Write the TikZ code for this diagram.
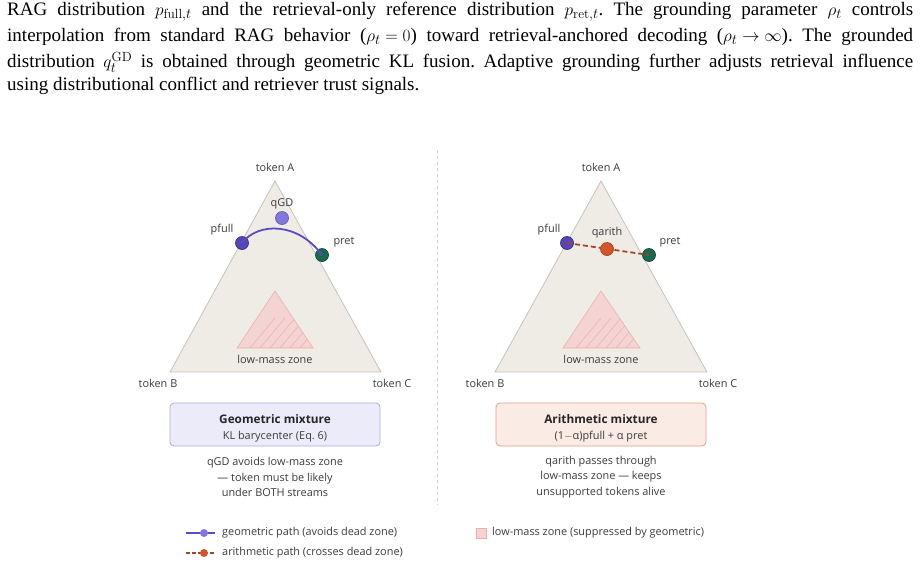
\documentclass[tikz,border=0pt]{standalone}
\usepackage{fontspec}
\setsansfont{Open Sans}
\newfontfamily\capfont{Liberation Serif}
\definecolor{simplex}{HTML}{EFECE5}
\definecolor{simpedge}{HTML}{C9C3B9}
\definecolor{zonefill}{HTML}{F3D4D2}
\definecolor{zoneedge}{HTML}{EDAFAE}
\definecolor{pfullc}{HTML}{5546B8}
\definecolor{qgdc}{HTML}{8277DB}
\definecolor{pretc}{HTML}{1B6A50}
\definecolor{arithc}{HTML}{D2562A}
\definecolor{arithline}{HTML}{A8432A}
\definecolor{geoline}{HTML}{5B4CC4}
\definecolor{txt}{HTML}{3C3C3C}
\newcommand\mm[1]{\mbox{$#1$}}
\frenchspacing
\begin{document}
\begin{tikzpicture}[x=1pt,y=-1pt,
  lab/.style={font=\sffamily\fontsize{10.9}{12}\selectfont,text=txt,inner sep=0pt},
  capline/.style={font=\capfont\fontsize{19}{22}\selectfont,anchor=west,inner sep=0pt},
  simp/.style={fill=simplex,draw=simpedge,line width=0.8pt},
  zone/.style={fill=zonefill,draw=zoneedge,line width=0.6pt},
  dotp/.style={circle,inner sep=0pt,minimum size=13pt,line width=0.7pt},
  mixbox/.style={rounded corners=4pt,line width=0.8pt,minimum width=210pt,minimum height=43pt},
  geo/.style={geoline,line width=1.8pt},
  ari/.style={arithline,line width=1.8pt,dash pattern=on 5pt off 3pt}]
\useasboundingbox (0,0) rectangle (920,568);
% caption
\node[capline] (c1) at (7,12) {\makebox[906pt][s]{RAG distribution \mm{p_{\mathrm{full},t}} and the retrieval-only reference distribution \mm{p_{\mathrm{ret},t}}. The grounding parameter \mm{\rho_t} controls}};
\node[capline] (c2) at (7,37) {\makebox[906pt][s]{interpolation from standard RAG behavior (\mm{\rho_t=0}) toward retrieval-anchored decoding (\mm{\rho_t\to\infty}). The grounded}};
\node[capline] (c3) at (7,62) {\makebox[906pt][s]{distribution \mm{q_t^{\mathrm{GD}}} is obtained through geometric KL fusion. Adaptive grounding further adjusts retrieval influence}};
\node[capline] (c4) at (7,86) {using distributional conflict and retriever trust signals.};
% divider
\draw[gray!35,dashed,line width=0.6pt] (437,150) -- (437,505);
% left simplex
\draw[simp] (275,181) -- (170,372) -- (381,372) -- cycle;
\draw[zone] (275,291) -- (237,348) -- (313,348) -- cycle;
\begin{scope}
\clip (275,291) -- (237,348) -- (313,348) -- cycle;
\foreach \i in {0,...,5} \draw[zoneedge,line width=0.5pt] (250+\i*10,348) -- (275+\i*10,318);
\end{scope}
\node[lab] (lz1) at (275,359) {low-mass zone};
\node[lab] (tA1) at (275,167) {token A};
\node[lab] (tB1) at (158,383) {token B};
\node[lab] (tC1) at (392,383) {token C};
\node[dotp,fill=pfullc,draw=pfullc!70!black] (pf1) at (242,243) {};
\node[dotp,fill=qgdc,draw=qgdc!80!black] (qg1) at (282,218) {};
\node[dotp,fill=pretc,draw=pretc!70!black] (pr1) at (322,255) {};
\draw[geo] (pf1.center) .. controls (258,222) and (298,222) .. (pr1.center);
\node[lab] (lpf1) at (222,230) {pfull};
\node[lab] (lqg1) at (282,204) {qGD};
\node[lab] (lpr1) at (344,242) {pret};
% right simplex
\draw[simp] (601,181) -- (495,372) -- (707,372) -- cycle;
\draw[zone] (601,291) -- (563,348) -- (640,348) -- cycle;
\begin{scope}
\clip (601,291) -- (563,348) -- (640,348) -- cycle;
\foreach \i in {0,...,5} \draw[zoneedge,line width=0.5pt] (576+\i*10,348) -- (601+\i*10,318);
\end{scope}
\node[lab] (lz2) at (601,359) {low-mass zone};
\node[lab] (tA2) at (601,167) {token A};
\node[lab] (tB2) at (485,383) {token B};
\node[lab] (tC2) at (718,383) {token C};
\node[dotp,fill=pfullc,draw=pfullc!70!black] (pf2) at (567,243) {};
\node[dotp,fill=pretc,draw=pretc!70!black] (pr2) at (649,255) {};
\draw[ari] (pf2.center) -- (pr2.center);
\node[dotp,fill=arithc,draw=arithc!80!black] (qa2) at (607,249) {};
\node[lab] (lpf2) at (549,230) {pfull};
\node[lab] (lqa2) at (607,233) {qarith};
\node[lab] (lpr2) at (670,242) {pret};
% boxes
\node[mixbox,fill=qgdc!15,draw=qgdc!65] (gbox) at (275,424.5) {};
\node[lab,font=\sffamily\bfseries\fontsize{11.8}{13}\selectfont,text=black!85] at (275,419) {Geometric mixture};
\node[lab] at (275,437) {KL barycenter (Eq.~6)};
\node[mixbox,fill=arithc!12,draw=arithc!55] (abox) at (601,424.5) {};
\node[lab,font=\sffamily\bfseries\fontsize{11.8}{13}\selectfont,text=black!85] at (601,419) {Arithmetic mixture};
\node[lab] at (601,437) {(1$-$α)pfull + α pret};
\node[lab,align=center,font=\sffamily\fontsize{10.9}{15.5}\selectfont] (gtxt) at (275,477) {qGD avoids low-mass zone\\— token must be likely\\under BOTH streams};
\node[lab,align=center,font=\sffamily\fontsize{10.9}{15.5}\selectfont] (atxt) at (601,477) {qarith passes through\\low-mass zone — keeps\\unsupported tokens alive};
% legend
\coordinate (lg1a) at (186,533); \coordinate (lg1b) at (215,533);
\draw[geo] (lg1a) -- (lg1b);
\node[circle,fill=qgdc,inner sep=0pt,minimum size=8pt] (lgd1) at (204,533) {};
\node[lab,anchor=west] at (222,533) {geometric path (avoids dead zone)};
\coordinate (lg2a) at (186,553); \coordinate (lg2b) at (215,553);
\draw[arithline,line width=1.8pt,dash pattern=on 4pt off 2pt] (lg2a) -- (lg2b);
\node[circle,fill=arithc,inner sep=0pt,minimum size=8pt] (lgd2) at (204,553) {};
\node[lab,anchor=west] at (222,553) {arithmetic path (crosses dead zone)};
\node[draw=zoneedge,fill=zonefill,minimum size=10pt,inner sep=0pt] (lgz) at (481,533) {};
\node[lab,anchor=west] at (492,533) {low-mass zone (suppressed by geometric)};
\end{tikzpicture}
\end{document}
